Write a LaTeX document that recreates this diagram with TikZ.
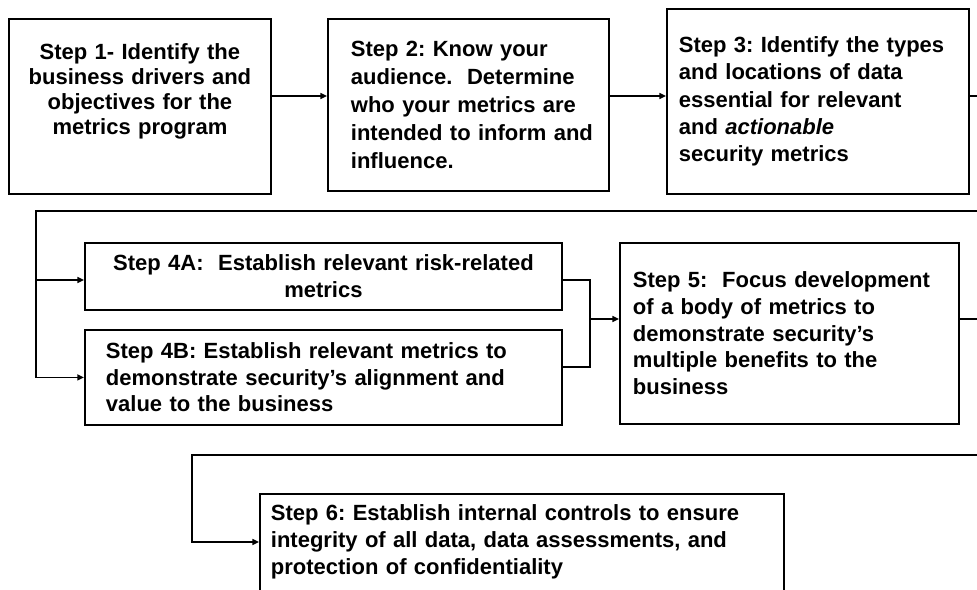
\documentclass[tikz,border=0pt]{standalone}
\usepackage{fontspec}
\setmainfont{Liberation Sans}
\usetikzlibrary{arrows.meta,calc}
\tikzset{
  stepbox/.style={draw=black, line width=1.4pt, anchor=north west, inner ysep=0pt,
    font=\fontsize{16.5}{20}\selectfont\bfseries\frenchspacing, align=left},
  conn/.style={draw=black, line width=1.1pt},
  arr/.style={conn, -{Triangle[length=5pt,width=4.5pt]}}
}
\begin{document}
\begin{tikzpicture}[x=0.75pt,y=-0.75pt]
\fill[white] (0,0) rectangle (977,589);
\clip (0,0) rectangle (977,589);

% boxes
\node[stepbox, align=center, text width=180pt, inner xsep=8.25pt, minimum height=131.25pt,
  font=\fontsize{16.5}{18.75}\selectfont\bfseries\frenchspacing] (b1) at (8,18)
  {Step 1- Identify the\\ business drivers and\\ objectives for the\\ metrics program\\[6.75pt]\mbox{}};
\node[stepbox, text width=176.25pt, inner xsep=17.25pt, minimum height=129pt,
  font=\fontsize{16.5}{21}\selectfont\bfseries\frenchspacing] (b2) at (327,18)
  {Step 2: Know your\\ audience.\ \ Determine\\ who your metrics are\\ \mbox{intended to inform and}\\ influence.};
\node[stepbox, text width=208.5pt, inner xsep=9pt, minimum height=138.75pt,
  font=\fontsize{16.5}{20.5}\selectfont\bfseries\frenchspacing] (b3) at (666,8)
  {Step 3: Identify the types\\ and locations of data\\ essential for relevant\\ and \textit{actionable}\\ security metrics};
\node[stepbox, align=center, text width=341.25pt, inner xsep=8.25pt, minimum height=50.25pt] (b4a) at (84,242)
  {Step 4A:\ \ Establish relevant risk-related\\ metrics};
\node[stepbox, text width=326.25pt, inner xsep=15.75pt, minimum height=71.25pt] (b4b) at (84,329)
  {Step 4B: Establish relevant metrics to\\ demonstrate security’s alignment and\\ value to the business};
\node[stepbox, text width=234.75pt, inner xsep=9.75pt, minimum height=135.75pt] (b5) at (619,242)
  {Step 5:\ \ Focus development\\ of a body of metrics to\\ demonstrate security’s\\ multiple benefits to the\\ business};
\node[stepbox, text width=376.5pt, inner xsep=8.25pt, minimum height=76.5pt] (b6) at (259,493)
  {Step 6: Establish internal controls to ensure\\ integrity of all data, data assessments, and\\ protection of confidentiality\\[-12pt]\mbox{}};

% routing coordinates
\coordinate (r1) at (0,96);
\coordinate (e1) at (977,96);
\coordinate (e2) at (977,211);
\coordinate (k1) at (36,211);
\coordinate (k3) at (36,280);
\coordinate (m1) at (590,280);
\coordinate (m2) at (590,367);
\coordinate (m3) at (590,319);
\coordinate (e3) at (977,319);
\coordinate (e4) at (977,455);
\coordinate (n1) at (192,455);
\coordinate (n2) at (192,542);

% connectors
\draw[arr] (b1.east |- r1) -- (b2.west |- r1);
\draw[arr] (b2.east |- r1) -- (b3.west |- r1);
\draw[conn] (b3.east |- r1) -- (e1);
\draw[arr] (e2) -- (k1) |- (b4b.west);
\draw[arr] (k3) -- (b4a.west |- k3);
\draw[conn] (b4a.east |- m1) -- (m1) -- (m2) -- (b4b.east |- m2);
\draw[arr] (m3) -- (b5.west |- m3);
\draw[conn] (b5.east |- m3) -- (e3);
\draw[arr] (e4) -- (n1) -- (n2) -- (b6.west |- n2);
\end{tikzpicture}
\end{document}
